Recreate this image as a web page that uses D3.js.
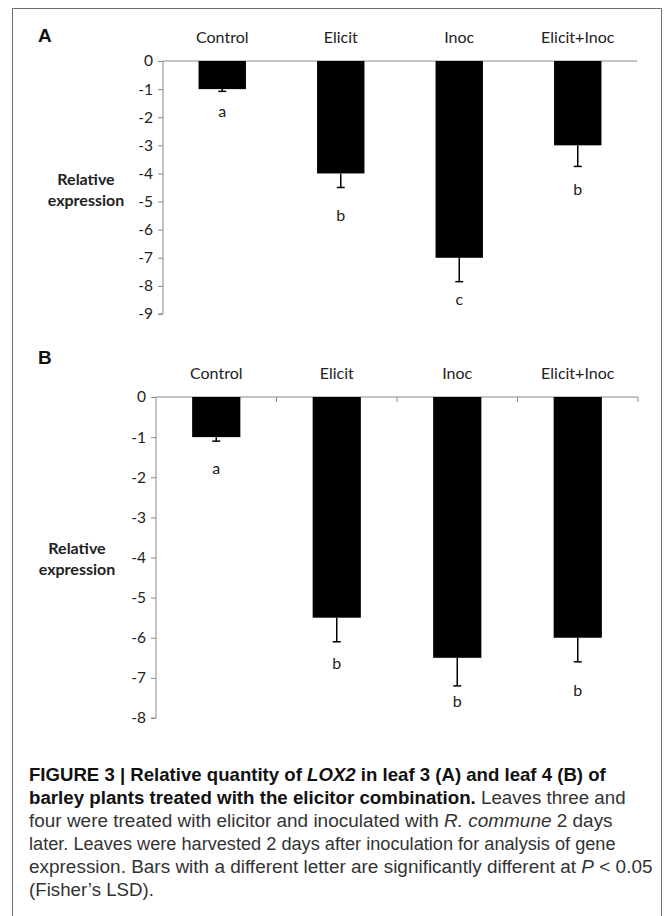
<!DOCTYPE html>
<html>
<head>
<meta charset="utf-8">
<script src="https://cdn.jsdelivr.net/npm/d3@7/dist/d3.min.js"></script>
<style>
  html, body { margin: 0; padding: 0; background: #fff; }
  svg { display: block; }
</style>
</head>
<body>
<svg id="chart" width="671" height="916"></svg>
<script>
// ---------- DATA ----------
const categories = ["Control", "Elicit", "Inoc", "Elicit+Inoc"];

const valuesA = [-1, -4, -7, -3];
const errorsA = [0.08, 0.5, 0.85, 0.75];
const lettersA = ["a", "b", "c", "b"];
const letterPosA = [-1.79, -5.5, -8.48, -4.58];
const ticksA = [0, -1, -2, -3, -4, -5, -6, -7, -8, -9];

const valuesB = [-1, -5.5, -6.5, -6];
const errorsB = [0.1, 0.6, 0.7, 0.6];
const lettersB = ["a", "b", "b", "b"];
const letterPosB = [-1.77, -6.63, -7.59, -7.3];
const ticksB = [0, -1, -2, -3, -4, -5, -6, -7, -8];

const yLabelLines = ["Relative", "expression"];

// ---------- DRAW ----------
const svg = d3.select("#chart");
const chartFont = "Lato, 'Open Sans', sans-serif";

// outer frame (open at bottom)
svg.append("path")
  .attr("d", "M12.5,916 L12.5,8.5 L661.5,8.5 L661.5,916")
  .attr("fill", "none").attr("stroke", "#6d6d6d").attr("stroke-width", 1);

function panel(cfg) {
  const g = svg.append("g");
  const x = d3.scaleBand().domain(categories).range([cfg.x0, cfg.x1])
    .paddingInner(0.6).paddingOuter(0.3);
  const y = d3.scaleLinear().domain([d3.min(cfg.ticks), 0]).range([cfg.yBottom, cfg.yTop]);

  // panel letter
  g.append("text").attr("x", 38).attr("y", cfg.letterY)
    .attr("font-family", "Arial, 'Liberation Sans', sans-serif")
    .attr("font-weight", "bold").attr("font-size", 19).attr("fill", "#111")
    .text(cfg.name);

  // category labels at top
  g.selectAll(".cat").data(categories).enter().append("text")
    .attr("x", d => x(d) + x.bandwidth() / 2)
    .attr("y", cfg.catY)
    .attr("text-anchor", "middle")
    .attr("font-family", chartFont).attr("font-size", 16).attr("fill", "#222")
    .text(d => d);

  // y axis
  const yAxis = d3.axisLeft(y).tickValues(cfg.ticks).tickSize(5).tickPadding(5)
    .tickFormat(d3.format("d"));
  const ya = g.append("g").attr("transform", `translate(${cfg.x0},0)`).call(yAxis);
  ya.select(".domain").attr("stroke", "#8a8a8a").attr("d", `M-5,${cfg.yBottom}H0V${cfg.yTop}`);
  ya.selectAll(".tick line").attr("stroke", "#8a8a8a");
  ya.selectAll(".tick text").attr("font-family", chartFont).attr("font-size", 15.5)
    .attr("fill", "#222").text(d => d === 0 ? "0" : "-" + Math.abs(d));

  // zero line (category axis)
  const xAxis = d3.axisBottom(x).tickSize(0).tickFormat("");
  const xa = g.append("g").attr("transform", `translate(0,${y(0)})`).call(xAxis);
  xa.select(".domain").attr("stroke", "#8a8a8a").attr("d", `M${cfg.x0},0H${cfg.x1}`);
  xa.selectAll(".tick").remove();
  if (cfg.boundaryTicks) {
    const step = x.step();
    const bounds = categories.map((c, i) => x(c) - x.paddingOuter() * step + step);
    g.selectAll(".bt").data(bounds).enter().append("line")
      .attr("x1", d => d).attr("x2", d => d)
      .attr("y1", y(0)).attr("y2", y(0) + 5)
      .attr("stroke", "#8a8a8a");
  }

  // bars
  g.selectAll(".bar").data(cfg.values).enter().append("rect")
    .attr("x", (d, i) => x(categories[i]))
    .attr("y", y(0))
    .attr("width", x.bandwidth())
    .attr("height", d => y(d) - y(0))
    .attr("fill", "#000");

  // error bars (downward)
  const eb = g.selectAll(".err").data(cfg.values).enter().append("g");
  eb.append("line")
    .attr("x1", (d, i) => x(categories[i]) + x.bandwidth() / 2)
    .attr("x2", (d, i) => x(categories[i]) + x.bandwidth() / 2)
    .attr("y1", d => y(d))
    .attr("y2", (d, i) => y(d - cfg.errors[i]))
    .attr("stroke", "#000").attr("stroke-width", 1.5);
  eb.append("line")
    .attr("x1", (d, i) => x(categories[i]) + x.bandwidth() / 2 - 4)
    .attr("x2", (d, i) => x(categories[i]) + x.bandwidth() / 2 + 4)
    .attr("y1", (d, i) => y(d - cfg.errors[i]))
    .attr("y2", (d, i) => y(d - cfg.errors[i]))
    .attr("stroke", "#000").attr("stroke-width", 1.5);

  // significance letters
  g.selectAll(".let").data(cfg.letters).enter().append("text")
    .attr("x", (d, i) => x(categories[i]) + x.bandwidth() / 2)
    .attr("y", (d, i) => y(cfg.letterPos[i]))
    .attr("dy", "0.35em")
    .attr("text-anchor", "middle")
    .attr("font-family", chartFont).attr("font-size", 16).attr("fill", "#222")
    .text(d => d);

  // y label
  g.selectAll(".yl").data(yLabelLines).enter().append("text")
    .attr("x", cfg.yLabelX)
    .attr("y", (d, i) => cfg.yLabelY + i * 21)
    .attr("dy", "0.35em")
    .attr("text-anchor", "middle")
    .attr("font-family", chartFont).attr("font-weight", "bold")
    .attr("font-size", 16).attr("fill", "#222")
    .text(d => d);
}

panel({ name: "A", x0: 163, x1: 637, yTop: 61, yBottom: 314, ticks: ticksA,
  values: valuesA, errors: errorsA, letters: lettersA, letterPos: letterPosA,
  letterY: 42, catY: 42.5, yLabelX: 86, yLabelY: 179, boundaryTicks: false });

panel({ name: "B", x0: 156, x1: 638, yTop: 397, yBottom: 718, ticks: ticksB,
  values: valuesB, errors: errorsB, letters: lettersB, letterPos: letterPosB,
  letterY: 363.5, catY: 379, yLabelX: 77, yLabelY: 548, boundaryTicks: true });

// ---------- CAPTION ----------
const capFont = "'Liberation Sans Narrow', 'Arial Narrow', 'Liberation Sans', sans-serif";
const captionLines = [
  [{t: "FIGURE 3 | Relative quantity of ", b: 1}, {t: "LOX2", b: 1, i: 1}, {t: " in leaf 3 (A) and leaf 4 (B) of", b: 1}],
  [{t: "barley plants treated with the elicitor combination.", b: 1}, {t: " Leaves three and"}],
  [{t: "four were treated with elicitor and inoculated with "}, {t: "R. commune", i: 1}, {t: " 2 days"}],
  [{t: "later. Leaves were harvested 2 days after inoculation for analysis of gene"}],
  [{t: "expression. Bars with a different letter are significantly different at "}, {t: "P", i: 1}, {t: " < 0.05"}],
  [{t: "(Fisher\u2019s LSD)."}]
];
// right edges of the justified caption lines as they appear in the figure (last line natural)
const capRight = [606, 626, 613, 616, 653, null];
const capX = 29;
const cap = svg.append("g");
const scales = [];
captionLines.forEach((line, li) => {
  const lg = cap.append("g");
  const t = lg.append("text")
    .attr("x", 0).attr("y", 781 + li * 23.1)
    .attr("font-family", capFont).attr("font-size", 19).attr("fill", "#231f20");
  line.forEach(seg => {
    t.append("tspan")
      .attr("font-weight", seg.b ? "bold" : "normal")
      .attr("font-style", seg.i ? "italic" : "normal")
      .attr("fill", seg.b ? "#111" : "#333")
      .text(seg.t);
  });
  let s;
  if (capRight[li] != null) {
    s = (capRight[li] - capX) / t.node().getComputedTextLength();
    scales.push(s);
  } else {
    s = d3.mean(scales.slice(2));
  }
  lg.attr("transform", `translate(${capX},0) scale(${s},1)`);
});
</script>
</body>
</html>
